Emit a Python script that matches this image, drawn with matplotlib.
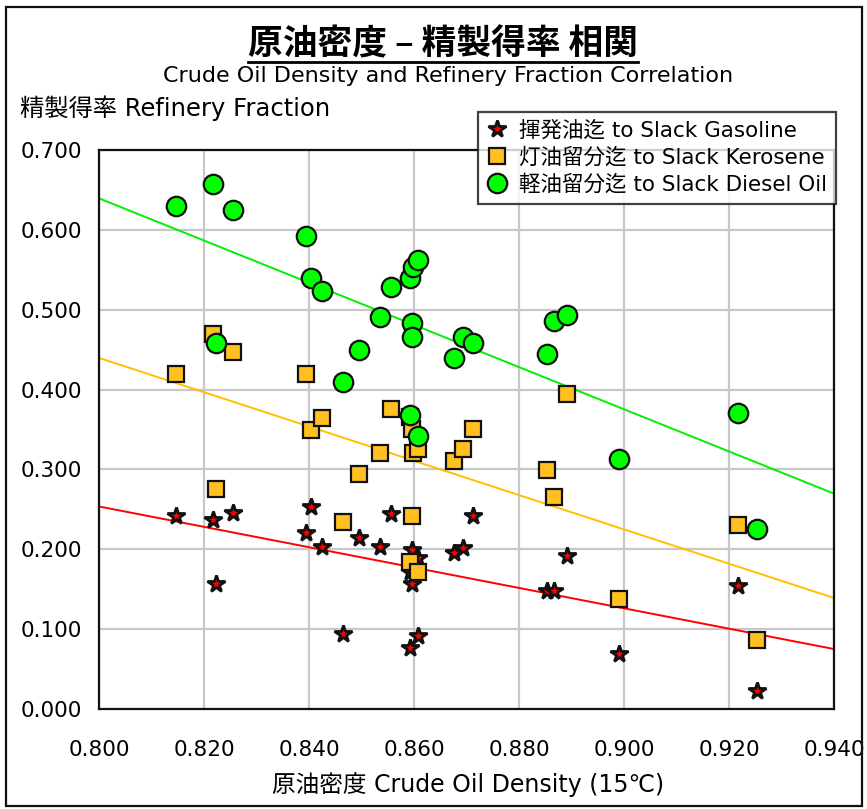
#!/usr/bin/env python3
"""Crude oil density vs refinery fraction scatter with linear trend lines."""

import matplotlib

matplotlib.use("Agg")
import matplotlib.pyplot as plt
import numpy as np
from matplotlib.lines import Line2D
from matplotlib.patches import Rectangle

plt.rcParams["font.family"] = ["DejaVu Sans", "Noto Sans CJK JP"]

# density (15C) of each crude, one value per crude
DENSITY = [
    0.8147, 0.8217, 0.8222, 0.8255, 0.8395, 0.8403, 0.8424, 0.8465, 0.8495,
    0.8536, 0.8556, 0.8593, 0.8593, 0.8597, 0.8597, 0.8598, 0.8607, 0.8607,
    0.8676, 0.8693, 0.8713, 0.8854, 0.8866, 0.8892, 0.8991, 0.9218, 0.9254,
]
GASOLINE = [
    0.242, 0.237, 0.157, 0.245, 0.220, 0.253, 0.203, 0.094, 0.214,
    0.203, 0.244, 0.077, 0.172, 0.199, 0.157, 0.180, 0.091, 0.189,
    0.195, 0.201, 0.242, 0.148, 0.148, 0.192, 0.069, 0.154, 0.022,
]
KEROSENE = [
    0.420, 0.470, 0.275, 0.447, 0.420, 0.349, 0.365, 0.234, 0.294,
    0.321, 0.376, 0.184, 0.366, 0.351, 0.242, 0.321, 0.171, 0.326,
    0.311, 0.326, 0.351, 0.299, 0.266, 0.395, 0.138, 0.231, 0.086,
]
DIESEL = [
    0.630, 0.658, 0.458, 0.625, 0.592, 0.540, 0.524, 0.409, 0.450,
    0.491, 0.529, 0.368, 0.540, 0.483, 0.466, 0.554, 0.342, 0.562,
    0.439, 0.466, 0.458, 0.444, 0.486, 0.494, 0.313, 0.371, 0.225,
]

SERIES = [
    ("揮発油迄 to Slack Gasoline", GASOLINE, "*", 13, 2.0, "#FF0000", "#FF0000"),
    ("灯油留分迄 to Slack Kerosene", KEROSENE, "s", 11.5, 1.6, "#FFC020", "#FFC000"),
    ("軽油留分迄 to Slack Diesel Oil", DIESEL, "o", 14, 1.6, "#00FF00", "#00F000"),
]

W, H = 867, 809
fig = plt.figure(figsize=(W / 100, H / 100), dpi=100)
ax = fig.add_axes([99 / W, 1 - 709 / H, 735 / W, 559 / H])

xs = np.array(DENSITY)
line_x = np.array([0.800, 0.940])
for label, values, marker, size, edge_w, face, line_color in SERIES:
    slope, icpt = np.polyfit(xs, np.array(values), 1)
    ax.plot(line_x, slope * line_x + icpt, color=line_color, linewidth=1.4, zorder=2)
for label, values, marker, size, edge_w, face, line_color in SERIES:
    ax.plot(
        xs, values, linestyle="none", marker=marker, markersize=size,
        markerfacecolor=face, markeredgecolor="#111111", markeredgewidth=edge_w,
        label=label, zorder=3,
    )

ax.set_xlim(0.800, 0.940)
ax.set_ylim(0.0, 0.700)
ax.set_xticks(np.arange(0.800, 0.9401, 0.020))
ax.set_yticks(np.arange(0.0, 0.7001, 0.100))
ax.xaxis.set_major_formatter(plt.FormatStrFormatter("%.3f"))
ax.yaxis.set_major_formatter(plt.FormatStrFormatter("%.3f"))
ax.tick_params(axis="both", length=0, labelsize=15.5)
ax.tick_params(axis="x", pad=22)
ax.tick_params(axis="y", pad=12)
ax.grid(color="#C8C8C8", linewidth=1.6)
ax.set_axisbelow(True)
for spine in ax.spines.values():
    spine.set_linewidth(1.6)
    spine.set_color("#111111")

fig.text(468 / W, 1 - 785 / H, "原油密度 Crude Oil Density (15℃)",
         ha="center", va="center", fontsize=17)
fig.text(20 / W, 1 - 108 / H, "精製得率 Refinery Fraction",
         ha="left", va="center", fontsize=17.5)
fig.text(448 / W, 1 - 76 / H, "Crude Oil Density and Refinery Fraction Correlation",
         ha="center", va="center", fontsize=16)
title = fig.text(443 / W, 1 - 44 / H, "原油密度 – 精製得率 相関",
                 ha="center", va="center", fontsize=25, fontweight="bold",
                 family=["Noto Sans CJK JP", "DejaVu Sans"])

leg = fig.legend(
    loc="upper right", bbox_to_anchor=(836 / W, 1 - 112 / H),
    fontsize=15.5, frameon=True, fancybox=False, borderpad=0.4,
    handletextpad=0.6, handlelength=0.9, labelspacing=0.3,
    borderaxespad=0.0,
)
leg.get_frame().set_edgecolor("#111111")
leg.get_frame().set_linewidth(1.6)

fig.canvas.draw()
bb = title.get_window_extent().transformed(fig.transFigure.inverted())
fig.add_artist(Line2D([bb.x0, bb.x1], [bb.y0 - 0.001, bb.y0 - 0.001],
                      color="black", linewidth=2.0))

fig.add_artist(Rectangle((6 / W, 1 - 806 / H), 856 / W, 799 / H,
                         fill=False, edgecolor="#111111", linewidth=1.6,
                         transform=fig.transFigure))

fig.savefig("out.png", dpi=100)
